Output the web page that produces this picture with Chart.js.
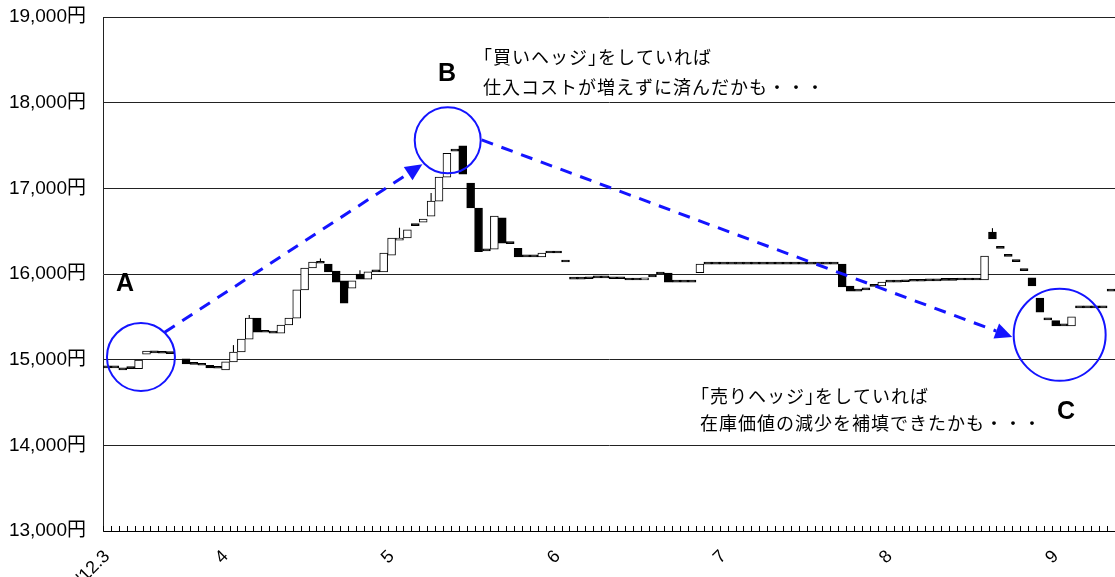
<!DOCTYPE html>
<html lang="ja">
<head>
<meta charset="utf-8">
<script src="https://cdn.jsdelivr.net/npm/chart.js@4.4.1/dist/chart.umd.min.js"></script>
<style>
  html, body { margin: 0; padding: 0; background: #fff; }
</style>
</head>
<body>
<canvas id="chart" width="1115" height="577"></canvas>
<script>
// daily prices (円), one entry per trading day from '12.3; null = no trade
const opens = [
  14905, 14905, 14905, 14895, 14895, 15065, 15100, 15075, 15070, null,
  15010, 14945, 14935, 14935, 14900, 14880, 14975, 15090, 15240, 15485,
  15320, 15310, 15310, 15405, 15485, 15815, 16070, 16140, 16115, 16035,
  15920, 15835, 16000, 15940, 16025, 16025, 16220, 16395, 16420, 16580,
  16605, 16675, 16850, 17130, 17450, 17495, 17060, 16770, 16270, 16290,
  16655, 16355, 16300, 16200, 16200, 16200, 16245, 16245, 16140, 15940,
  15940, 15945, 15955, 15955, 15945, 15945, 15930, 15930, 15930, 15965,
  16010, 16010, 15905, 15905, 15905, 16015, 16115, 16115, 16115, 16115,
  16115, 16115, 16115, 16115, 16115, 16115, 16115, 16115, 16115, 16115,
  16115, 16115, 16115, 16115, 15860, 15800, 15815, 15870, 15860, 15905,
  15905, 15910, 15915, 15915, 15920, 15920, 15925, 15925, 15930, 15930,
  15930, 15930, 16490, 16310, 16215, 16155, 16050, 15955, 15720, 15465,
  15455, 15395, 15395, 15605, 15605, 15605, 15605, 15800
];
const closes = [
  14905, 14905, 14880, 14895, 14995, 15100, 15080, 15075, 15070, null,
  14950, 14945, 14935, 14905, 14900, 14975, 15090, 15240, 15485, 15320,
  15320, 15310, 15405, 15485, 15815, 16070, 16140, 16125, 16025, 15905,
  15660, 15920, 15940, 16025, 16025, 16245, 16420, 16420, 16515, 16565,
  16640, 16850, 17130, 17410, 17435, 17165, 16770, 16260, 16270, 16675,
  16360, 16355, 16200, 16200, 16200, 16245, 16245, 16245, 16140, 15940,
  15940, 15945, 15955, 15955, 15945, 15945, 15930, 15930, 15955, 15965,
  16000, 15905, 15905, 15905, 15905, 16115, 16115, 16115, 16115, 16115,
  16115, 16115, 16115, 16115, 16115, 16115, 16115, 16115, 16115, 16115,
  16115, 16115, 16115, 15850, 15800, 15800, 15815, 15855, 15905, 15905,
  15905, 15910, 15915, 15915, 15920, 15920, 15925, 15925, 15930, 15930,
  15930, 16210, 16410, 16300, 16205, 16145, 16040, 15860, 15555, 15465,
  15395, 15395, 15500, 15605, 15605, 15605, 15605, 15800
];
// days with a visible upper shadow
const wickDays  = [16, 18, 27, 32, 37, 41, 112];
const wickHighs = [15170, 15520, 16180, 16045, 16540, 16945, 16535];

const monthLabels = ["'12.3", '4', '5', '6', '7', '8', '9'];
const monthDays   = [0, 15, 36, 57, 78, 99, 120];

const days = opens.map((_, i) => i);
const candles = days.map(i => opens[i] === null ? null : [opens[i], closes[i]]);
const wicks = days.map(i => {
    const k = wickDays.indexOf(i);
    return k < 0 ? null : [Math.max(opens[i], closes[i]), wickHighs[k]];
});

const BLUE = '#1414ff';
const JP_FONT = '"Liberation Sans", "Noto Sans CJK JP", sans-serif';

// --- annotation layer, placed in data coordinates (day index, price) ---
const circles = [
    { day: 4.3,   price: 15030, r: 34 },
    { day: 43.1,  price: 17560, r: 33 },
    { day: 120.5, price: 15290, r: 46 }
];
const arrows = [
    { from: [7.3, 15320],  to: [39.9, 17280] },
    { from: [47.4, 17565], to: [114.5, 15265] }
];
const letters = [
    { text: 'A', day: 2.3,   price: 15880 },
    { text: 'B', day: 43.0,  price: 18335 },
    { text: 'C', day: 121.3, price: 14390 }
];
const notes = [
    { lines: ['「買いヘッジ」をしていれば', '仕入コストが増えずに済んだかも・・・'], day: 47.56, prices: [18510, 18165] },
    { lines: ['「売りヘッジ」をしていれば', '在庫価値の減少を補填できたかも・・・'], day: 75.0, prices: [14555, 14240] }
];

const tickMarks = {
    id: 'tickMarks',
    afterDraw(chart) {
        const { ctx, chartArea } = chart;
        const x = chart.scales.x;
        ctx.save();
        ctx.strokeStyle = '#000';
        ctx.lineWidth = 1;
        ctx.beginPath();
        for (let k = 0; k <= days.length; k++) {
            const px = Math.round(x.getPixelForValue(k - 0.5)) + 0.5;
            ctx.moveTo(px, chartArea.bottom);
            ctx.lineTo(px, chartArea.bottom - 5);
        }
        ctx.stroke();
        ctx.restore();
    }
};

// brackets set half-width, like a proportional Japanese font
function drawLine(ctx, text, x, y, em) {
    let cx = x;
    for (const ch of text) {
        if (ch === '「') {
            ctx.fillText(ch, cx - em * 0.5, y);
            cx += em * 0.5 + 1;
        } else if (ch === '」') {
            ctx.fillText(ch, cx, y);
            cx += em * 0.5 + 1;
        } else {
            ctx.fillText(ch, cx, y);
            cx += ctx.measureText(ch).width + 1;
        }
    }
}

const annotations = {
    id: 'annotations',
    afterDraw(chart) {
        const { ctx } = chart;
        const { x, y } = chart.scales;
        const px = d => x.getPixelForValue(d);
        const py = v => y.getPixelForValue(v);
        ctx.save();

        // circles
        ctx.strokeStyle = BLUE;
        ctx.lineWidth = 2;
        circles.forEach(c => {
            ctx.beginPath();
            ctx.arc(px(c.day), py(c.price), c.r, 0, Math.PI * 2);
            ctx.stroke();
        });

        // dashed arrows
        arrows.forEach(a => {
            const x0 = px(a.from[0]), y0 = py(a.from[1]);
            const x1 = px(a.to[0]), y1 = py(a.to[1]);
            const len = Math.hypot(x1 - x0, y1 - y0);
            const ux = (x1 - x0) / len, uy = (y1 - y0) / len;
            const head = 17, half = 8;
            ctx.setLineDash([12, 9]);
            ctx.lineWidth = 3;
            ctx.strokeStyle = BLUE;
            ctx.beginPath();
            ctx.moveTo(x0, y0);
            ctx.lineTo(x1 - ux * head, y1 - uy * head);
            ctx.stroke();
            ctx.setLineDash([]);
            ctx.fillStyle = BLUE;
            ctx.beginPath();
            ctx.moveTo(x1, y1);
            ctx.lineTo(x1 - ux * head - uy * half, y1 - uy * head + ux * half);
            ctx.lineTo(x1 - ux * head + uy * half, y1 - uy * head - ux * half);
            ctx.closePath();
            ctx.fill();
        });

        // letters
        ctx.fillStyle = '#000';
        ctx.textAlign = 'center';
        ctx.textBaseline = 'middle';
        ctx.font = 'bold 25px "Liberation Sans", Arial, sans-serif';
        letters.forEach(l => ctx.fillText(l.text, px(l.day), py(l.price)));

        // comments
        ctx.textAlign = 'left';
        ctx.font = '18px ' + JP_FONT;
        notes.forEach(n => {
            n.lines.forEach((t, i) => drawLine(ctx, t, px(n.day), py(n.prices[i]), 18));
        });
        ctx.restore();
    }
};

new Chart(document.getElementById('chart'), {
    type: 'bar',
    data: {
        labels: days,
        datasets: [{
            label: 'candles',
            data: candles,
            order: 0,
            grouped: false,
            barPercentage: 1,
            categoryPercentage: 1,
            minBarLength: 2,
            borderWidth: 1,
            borderSkipped: false,
            borderColor: '#000',
            backgroundColor: ctx => {
                const i = ctx.dataIndex;
                return closes[i] > opens[i] ? '#fff' : '#000';
            }
        }, {
            label: 'wicks',
            data: wicks,
            order: 1,
            grouped: false,
            barPercentage: 0.14,
            categoryPercentage: 1,
            borderWidth: 0,
            backgroundColor: '#000'
        }]
    },
    options: {
        responsive: false,
        animation: false,
        layout: { padding: { top: 17, right: 0, left: 0, bottom: 0 } },
        plugins: {
            legend: { display: false },
            tooltip: { enabled: false }
        },
        scales: {
            x: {
                grid: { display: false, drawTicks: false },
                border: { display: true, color: '#000', width: 1 },
                afterFit: scale => {
                    scale.height = 46;
                    scale.paddingLeft = 0;
                    scale.paddingRight = 0;
                },
                ticks: {
                    autoSkip: false,
                    minRotation: 45,
                    maxRotation: 45,
                    padding: 15,
                    color: '#000',
                    font: { size: 18, family: JP_FONT },
                    callback: (v, i) => {
                        const k = monthDays.indexOf(i);
                        return k < 0 ? '' : monthLabels[k];
                    }
                }
            },
            y: {
                min: 13000,
                max: 19000,
                grid: { color: '#222', lineWidth: 1, drawTicks: false },
                border: { display: true, color: '#222', width: 1 },
                afterFit: scale => {
                    scale.width = 103;
                    scale.paddingTop = 0;
                    scale.paddingBottom = 0;
                },
                ticks: {
                    stepSize: 1000,
                    padding: 17,
                    color: '#000',
                    font: { size: 19, family: JP_FONT },
                    callback: v => v.toLocaleString('en-US') + '円'
                }
            }
        }
    },
    plugins: [tickMarks, annotations]
});
</script>
</body>
</html>
